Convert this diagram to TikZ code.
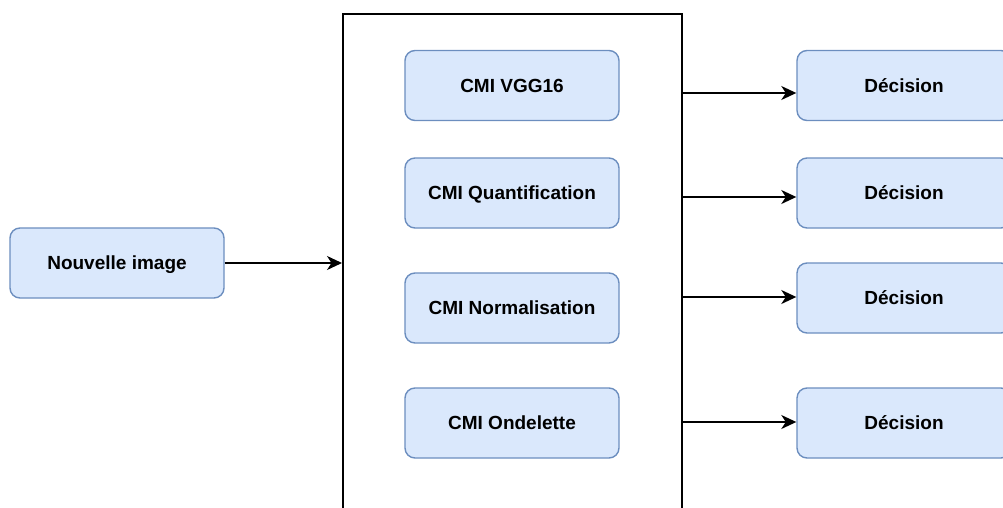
\documentclass[tikz,border=0pt]{standalone}
\usepackage{fontspec}
\setmainfont{Liberation Sans}
\usetikzlibrary{arrows.meta}
\definecolor{boxfill}{HTML}{DAE8FC}
\definecolor{boxdraw}{HTML}{6C8EBF}
\tikzset{
  bluebox/.style={draw=boxdraw, fill=boxfill, line width=1.4pt, rounded corners=10pt,
    minimum width=214pt, minimum height=70pt, inner sep=0pt,
    text height=13.6pt, text depth=0pt,
    font=\fontsize{19}{22}\selectfont\bfseries},
  arr/.style={line width=1.6pt, -{Stealth[length=15pt,width=14pt,inset=4.5pt]}},
  container/.style={draw=black, line width=1.6pt, minimum width=339pt, minimum height=600pt, inner sep=0pt, anchor=north west}
}
\begin{document}
\begin{tikzpicture}[x=1pt,y=-1pt]
\useasboundingbox (0,0) rectangle (1003,508);
\clip (0,0) rectangle (1003,508);
\node[container] (cont) at (342,13) {};
\node[bluebox] (in) at (117,263) {Nouvelle image};
\node[bluebox] (c1) at (512,85.5) {CMI VGG16};
\node[bluebox] (c2) at (512,193) {CMI Quantification};
\node[bluebox] (c3) at (512,308) {CMI Normalisation};
\node[bluebox] (c4) at (512,423) {CMI Ondelette};
\node[bluebox] (d1) at (904,85.5) {Décision};
\node[bluebox] (d2) at (904,193) {Décision};
\node[bluebox] (d3) at (904,298) {Décision};
\node[bluebox] (d4) at (904,423) {Décision};
\coordinate (o1) at (cont.east |- 0,93);
\coordinate (o2) at (cont.east |- 0,197);
\coordinate (o3) at (cont.east |- 0,297);
\coordinate (o4) at (cont.east |- 0,422);
\draw[arr] (in.east) -- (in.east -| cont.west);
\draw[arr] (o1) -- (o1 -| d1.west);
\draw[arr] (o2) -- (o2 -| d2.west);
\draw[arr] (o3) -- (o3 -| d3.west);
\draw[arr] (o4) -- (o4 -| d4.west);
\end{tikzpicture}
\end{document}
